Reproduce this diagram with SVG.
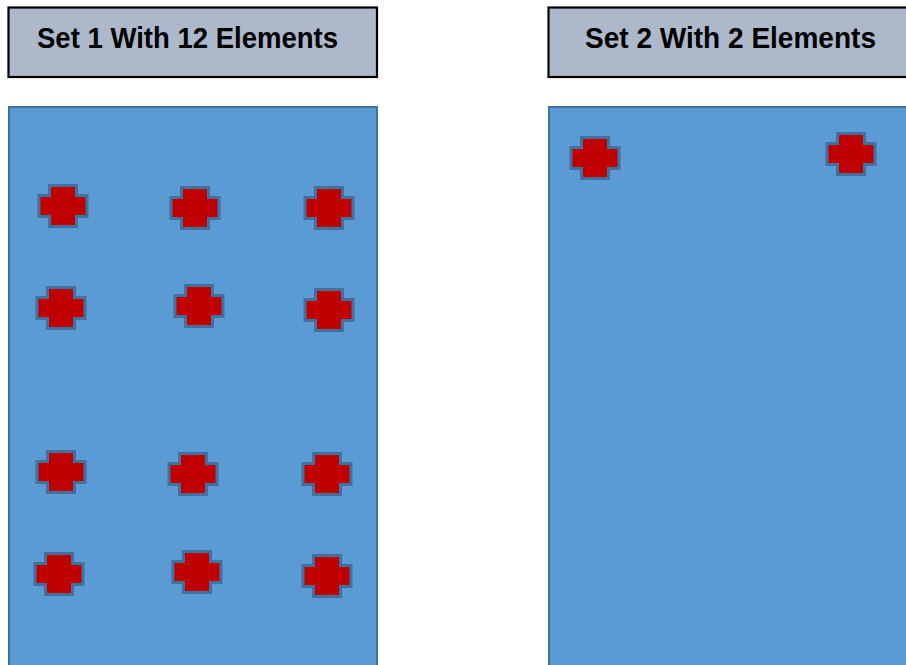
<svg xmlns="http://www.w3.org/2000/svg" width="906" height="665" viewBox="0 0 906 665">
<defs>
<style>
.title{fill:#ADB9CA;stroke:#000;stroke-width:2.2}
.panel{fill:#5B9BD5;stroke:#41719C;stroke-width:2}
.lbl{font-family:"Liberation Sans",Arial,sans-serif;font-weight:700;font-size:29px;fill:#000}
.x{fill:#C00000;stroke:#41719C;stroke-width:3;stroke-linejoin:miter}
</style>
<path id="cross" d="M-13.5,-20.5 H13.5 V-10.5 H24 V10.5 H13.5 V20.5 H-13.5 V10.5 H-24 V-10.5 H-13.5 Z"/>
</defs>
<rect width="906" height="665" fill="#fff"/>
<g id="set1-title">
<rect class="title" x="8.5" y="7.5" width="368.5" height="69.5"/>
<text class="lbl" x="37" y="47.5" textLength="301" lengthAdjust="spacingAndGlyphs">Set 1 With 12 Elements</text>
</g>
<g id="set2-title">
<rect class="title" x="548.5" y="7.5" width="380" height="69.5"/>
<text class="lbl" x="585" y="47.5" textLength="291" lengthAdjust="spacingAndGlyphs">Set 2 With 2 Elements</text>
</g>
<g id="set1">
<rect class="panel" x="9" y="107" width="368" height="580"/>
<use href="#cross" class="x" x="63" y="206"/>
<use href="#cross" class="x" x="195" y="208"/>
<use href="#cross" class="x" x="329" y="208"/>
<use href="#cross" class="x" x="61" y="308"/>
<use href="#cross" class="x" x="199" y="306"/>
<use href="#cross" class="x" x="329" y="310"/>
<use href="#cross" class="x" x="61" y="472"/>
<use href="#cross" class="x" x="193" y="474"/>
<use href="#cross" class="x" x="327" y="474"/>
<use href="#cross" class="x" x="59" y="574"/>
<use href="#cross" class="x" x="197" y="572"/>
<use href="#cross" class="x" x="327" y="576"/>
</g>
<g id="set2">
<rect class="panel" x="549" y="107" width="380" height="580"/>
<use href="#cross" class="x" x="595" y="158"/>
<use href="#cross" class="x" x="851" y="154"/>
</g>
<g id="connectors"/>
</svg>
